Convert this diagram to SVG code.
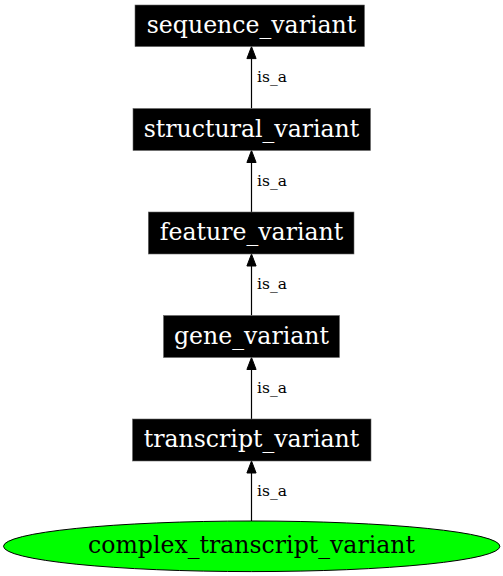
<svg xmlns="http://www.w3.org/2000/svg" width="503" height="576" viewBox="0 0 503 576">
<style>
.box{fill:#000;stroke:#666;stroke-width:0.6}
.nt{font-family:"DejaVu Serif",serif;font-size:23.6px;fill:#fff;text-anchor:middle}
.et{font-family:"DejaVu Serif",serif;font-size:15.5px;fill:#000}
.edge line{stroke:#000;stroke-width:1.2}
.edge polygon{fill:#000;stroke:#000;stroke-width:1}
</style>
<rect width="503" height="576" fill="#fff"/>
<g id="connectors" class="edge">
<line x1="251.5" y1="108.5" x2="251.5" y2="58.5"/><polygon points="251.5,46.6 246.9,58.6 256.1,58.6"/>
<text class="et" x="257" y="82">is_a</text>
<line x1="251.5" y1="212" x2="251.5" y2="162.5"/><polygon points="251.5,150.5 246.9,162.5 256.1,162.5"/>
<text class="et" x="257" y="185.5">is_a</text>
<line x1="251.5" y1="315.5" x2="251.5" y2="266"/><polygon points="251.5,254 246.9,266 256.1,266"/>
<text class="et" x="257" y="289">is_a</text>
<line x1="251.5" y1="419" x2="251.5" y2="369.5"/><polygon points="251.5,357.5 246.9,369.5 256.1,369.5"/>
<text class="et" x="257" y="392.5">is_a</text>
<line x1="251.5" y1="521" x2="251.5" y2="473"/><polygon points="251.5,461 246.9,473 256.1,473"/>
<text class="et" x="257" y="496">is_a</text>
</g>
<g id="sequence_variant"><rect class="box" x="135" y="5" width="229.5" height="41.6"/><text class="nt" x="251.5" y="33">sequence_variant</text></g>
<g id="structural_variant"><rect class="box" x="133" y="108.5" width="237.5" height="42"/><text class="nt" x="251.5" y="136.5">structural_variant</text></g>
<g id="feature_variant"><rect class="box" x="148.3" y="212" width="205.7" height="42"/><text class="nt" x="251.5" y="240">feature_variant</text></g>
<g id="gene_variant"><rect class="box" x="163.5" y="315.5" width="176" height="42"/><text class="nt" x="251.5" y="343.5">gene_variant</text></g>
<g id="transcript_variant"><rect class="box" x="132.5" y="419" width="238.5" height="42"/><text class="nt" x="251.5" y="447">transcript_variant</text></g>
<g id="complex_transcript_variant"><ellipse cx="251.7" cy="546.3" rx="248.2" ry="25.3" fill="#00ff00" stroke="#000" stroke-width="1"/><text class="nt" x="251.5" y="553" style="fill:#000">complex_transcript_variant</text></g>
</svg>
